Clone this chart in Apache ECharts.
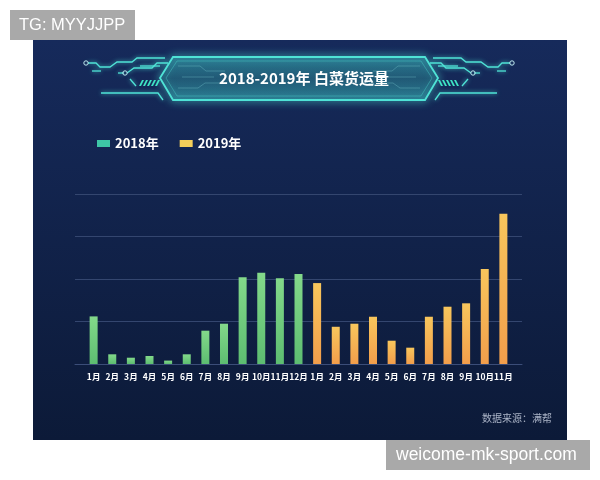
<!DOCTYPE html>
<html>
<head>
<meta charset="utf-8">
<script src="https://cdn.jsdelivr.net/npm/echarts@6/dist/echarts.min.js"></script>
<style>
  html, body { margin: 0; padding: 0; background: #fff; }
  #chart { width: 600px; height: 480px; }
</style>
</head>
<body>
<div id="chart"></div>
<script>
// 月份
var months2018 = ['1月', '2月', '3月', '4月', '5月', '6月', '7月', '8月', '9月', '10月', '11月', '12月']
var months2019 = ['1月', '2月', '3月', '4月', '5月', '6月', '7月', '8月', '9月', '10月', '11月']
// 货运量（相对值，图上量得）
var values2018 = [28, 5.7, 3.7, 4.7, 2, 5.7, 19.6, 23.7, 51, 53.7, 50.4, 52.9]
var values2019 = [47.6, 21.9, 23.7, 27.8, 13.7, 9.6, 27.8, 33.7, 35.7, 55.9, 88.4]

var titleText = '2018-2019年 白菜货运量'
var sourceText = '数据来源：满帮'

// 两头各空一格
var cats = [''].concat(months2018, months2019, [''])
var s2018 = [null], s2019 = [null]
months2018.forEach(function (m, i) { s2018.push(values2018[i]); s2019.push(null) })
months2019.forEach(function (m, i) { s2018.push(null); s2019.push(values2019[i]) })
s2018.push(null); s2019.push(null)

var cyan = '#4fe3d6'
var lineStyle = { stroke: cyan, lineWidth: 1.3, shadowBlur: 4, shadowColor: 'rgba(79,227,214,0.8)' }

// 左侧电路装饰，右侧镜像
var leftDeco = [
  [[88, 63], [96, 63], [100, 67], [110, 67], [117, 62], [132, 62], [137, 58], [165, 58]],
  [[92, 71], [101, 71]],
  [[127, 73], [134, 68], [152, 68], [157, 63], [168, 63]],
  [[118, 73], [124, 73]],
  [[130, 79], [136, 86]],
  [[101, 93], [158, 93], [163, 100]],
  [[140, 66], [160, 66]]
]
var circles = [[86, 63], [125, 73]]
var cx = 299

function mirror (pts) {
  return pts.map(function (p) { return [2 * cx - p[0], p[1]] })
}

var graphics = [
  // 深色底板
  {
    type: 'rect', z: -10, silent: true,
    shape: { x: 33, y: 40, width: 534, height: 400 },
    style: {
      fill: new echarts.graphic.LinearGradient(0, 0, 0, 1, [
        { offset: 0, color: '#162a5b' },
        { offset: 1, color: '#0c1a38' }
      ])
    }
  },
  // 标题框
  {
    type: 'polygon', z: 5,
    shape: { points: [[160, 78], [173, 57], [425, 57], [438, 78], [425, 100], [173, 100]] },
    style: {
      fill: new echarts.graphic.LinearGradient(0, 0, 0, 1, [
        { offset: 0, color: 'rgba(50,170,180,0.35)' },
        { offset: 0.5, color: 'rgba(20,70,100,0.35)' },
        { offset: 1, color: 'rgba(50,170,180,0.35)' }
      ]),
      stroke: cyan, lineWidth: 1.8, shadowBlur: 8, shadowColor: 'rgba(79,227,214,0.9)'
    }
  },
  {
    type: 'polygon', z: 5,
    shape: { points: [[166, 78], [177, 61], [421, 61], [432, 78], [421, 96], [177, 96]] },
    style: { fill: 'none', stroke: 'rgba(79,227,214,0.35)', lineWidth: 1 }
  },
  {
    type: 'text', z: 10,
    style: {
      x: 304, y: 78, text: titleText, fill: '#fff',
      font: 'bold 15px "Noto Sans CJK SC"', align: 'center', verticalAlign: 'middle'
    }
  },
  // 水印
  { type: 'rect', z: 20, shape: { x: 10, y: 10, width: 125, height: 30 }, style: { fill: '#a9a9a9' } },
  {
    type: 'text', z: 21,
    style: { x: 19, y: 25, text: 'TG: MYYJJPP', fill: '#fff', font: '16.5px "Liberation Sans"', verticalAlign: 'middle' }
  },
  { type: 'rect', z: 20, shape: { x: 386, y: 440, width: 204, height: 30 }, style: { fill: '#a9a9a9' } },
  {
    type: 'text', z: 21,
    style: { x: 396, y: 455, text: 'weicome-mk-sport.com', fill: '#fff', font: '17.5px "Liberation Sans"', verticalAlign: 'middle' }
  },
  // 数据来源
  {
    type: 'text', z: 10,
    style: { x: 552, y: 418, text: sourceText, fill: '#aab3c6', font: '10px "Noto Sans CJK SC"', align: 'right', verticalAlign: 'middle' }
  }
]

// 标题框内的暗线
var innerLines = [
  [[178, 66], [200, 66], [206, 71], [225, 71]],
  [[178, 88], [198, 88], [205, 83], [220, 83]],
  [[182, 77], [214, 77]]
]
innerLines.forEach(function (pts) {
  [pts, mirror(pts)].forEach(function (p) {
    graphics.push({ type: 'polyline', z: 6, shape: { points: p }, style: { stroke: 'rgba(120,200,210,0.35)', lineWidth: 1 } })
  })
})

leftDeco.forEach(function (pts) {
  [pts, mirror(pts)].forEach(function (p) {
    graphics.push({ type: 'polyline', z: 6, shape: { points: p }, style: lineStyle })
  })
})
circles.forEach(function (c) {
  [c, [2 * cx - c[0], c[1]]].forEach(function (p) {
    graphics.push({ type: 'circle', z: 6, shape: { cx: p[0], cy: p[1], r: 2.2 }, style: { fill: 'none', stroke: '#bfe9f0', lineWidth: 1 } })
  })
})
// 斜条纹
for (var i = 0; i < 5; i++) {
  var x0 = 139 + i * 4
  var stripe = [[x0, 86], [x0 + 3, 80], [x0 + 5, 80], [x0 + 2, 86]]
  graphics.push({ type: 'polygon', z: 6, shape: { points: stripe }, style: { fill: '#3ee3c4' } })
  graphics.push({ type: 'polygon', z: 6, shape: { points: mirror(stripe) }, style: { fill: '#3ee3c4' } })
}

var myChart = echarts.init(document.getElementById('chart'))
var option = {
  backgroundColor: '#fff',
  animation: false,
  textStyle: { fontFamily: '"Noto Sans CJK SC"' },
  graphic: graphics,
  legend: {
    left: 92,
    top: 132,
    itemWidth: 13,
    itemHeight: 7,
    itemGap: 21,
    icon: 'rect',
    textStyle: { color: '#fff', fontSize: 13, fontWeight: 'bold' },
    data: [
      { name: '2018年', itemStyle: { color: '#3ec6a6' } },
      { name: '2019年', itemStyle: { color: '#f4cf5a' } }
    ]
  },
  grid: { left: 75, right: 78, top: 194, bottom: 116 },
  xAxis: {
    type: 'category',
    data: cats,
    boundaryGap: false,
    axisTick: { show: false },
    axisLine: { lineStyle: { color: '#3b4d78', width: 1 } },
    axisLabel: { interval: 0, color: '#fff', fontSize: 8.5, fontWeight: 'bold', margin: 9 }
  },
  yAxis: {
    type: 'value',
    min: 0,
    max: 100,
    interval: 25,
    axisLabel: { show: false },
    axisLine: { show: false },
    axisTick: { show: false },
    splitLine: { lineStyle: { color: '#34466f', width: 1 } }
  },
  series: [
    {
      name: '2018年',
      type: 'bar',
      barWidth: 8,
      barGap: '-100%',
      data: s2018,
      itemStyle: {
        color: new echarts.graphic.LinearGradient(0, 0, 0, 1, [
          { offset: 0, color: '#83d98a' },
          { offset: 1, color: '#5dbd71' }
        ])
      }
    },
    {
      name: '2019年',
      type: 'bar',
      barWidth: 8,
      barGap: '-100%',
      data: s2019,
      itemStyle: {
        color: new echarts.graphic.LinearGradient(0, 0, 0, 1, [
          { offset: 0, color: '#f8c65c' },
          { offset: 1, color: '#f29e4b' }
        ])
      }
    }
  ]
}
myChart.setOption(option)
</script>
</body>
</html>
